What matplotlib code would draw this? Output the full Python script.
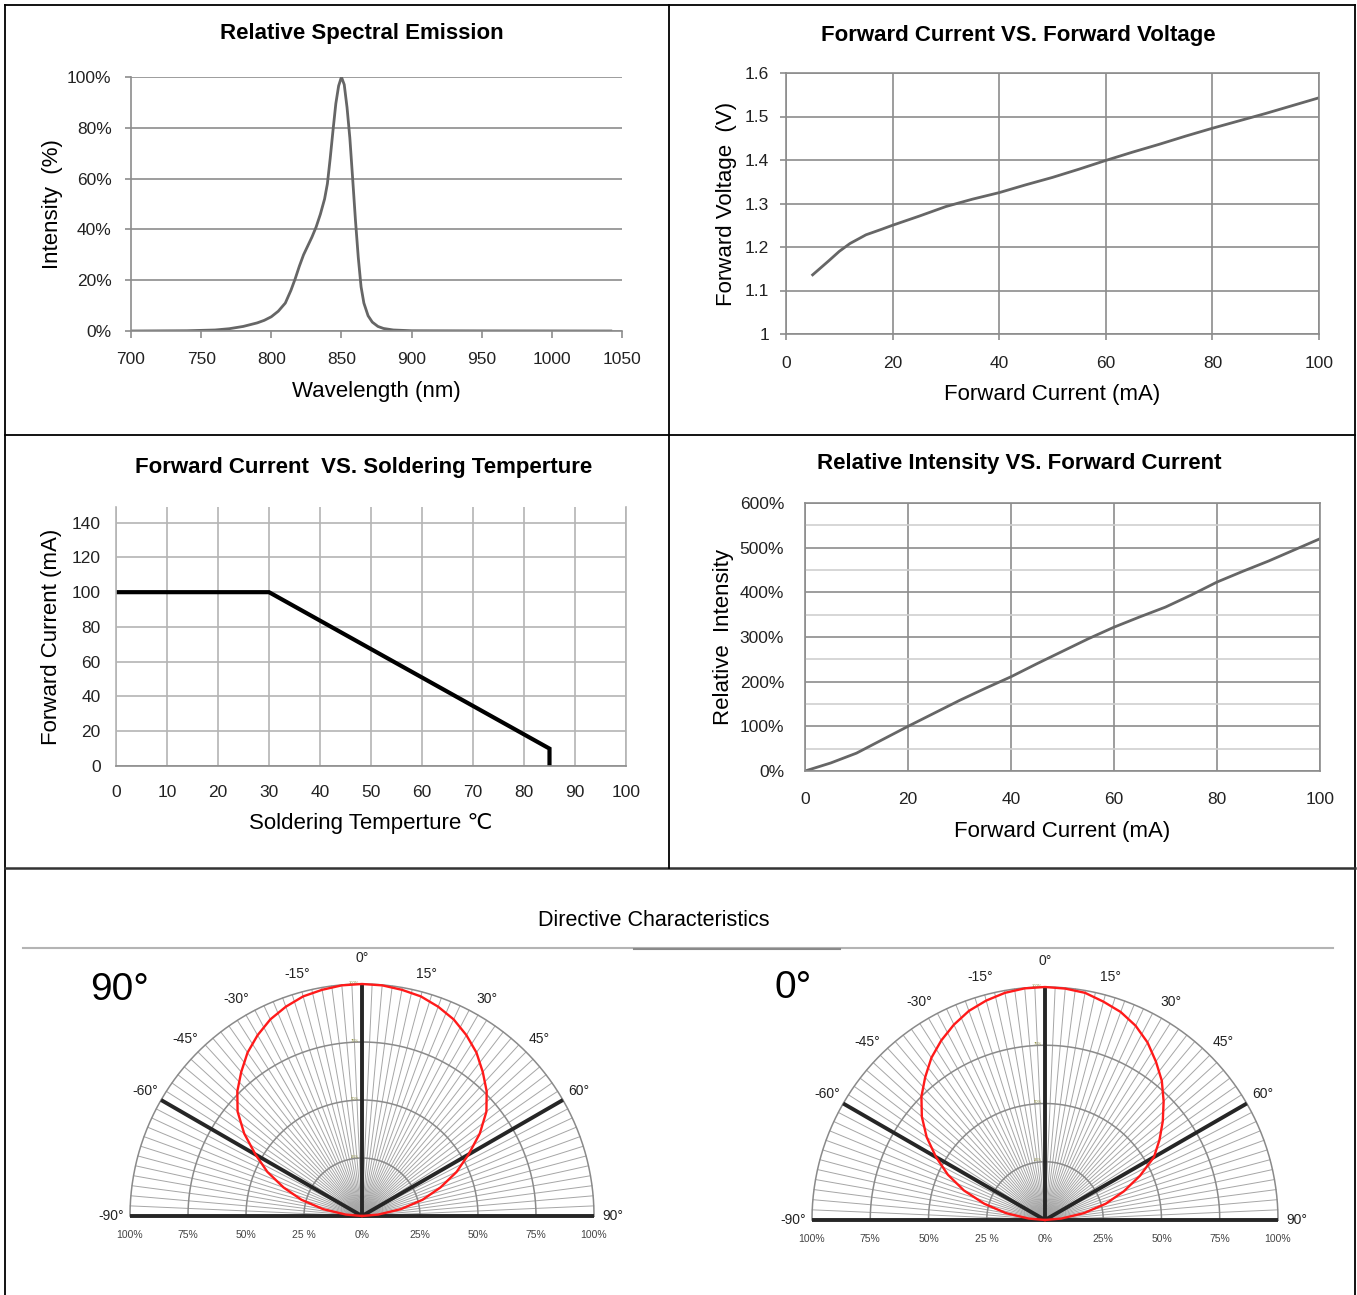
import numpy as np
import matplotlib
matplotlib.use('Agg')
import matplotlib.pyplot as plt
from matplotlib.lines import Line2D
from matplotlib.ticker import PercentFormatter, MultipleLocator

plt.rcParams['font.family'] = ['Liberation Sans', 'DejaVu Sans']

W, H = 1357, 1295

# Relative spectral emission
wl = [700, 740, 760, 770, 780, 790, 795, 800, 805, 810, 814, 817, 820, 823, 826,
      829, 832, 835, 838, 840, 842, 844, 846, 848, 850, 852, 854, 856, 858, 860,
      862, 864, 866, 869, 872, 876, 880, 887, 900, 950, 1042]
spec = [0, 0.1, 0.4, 0.9, 1.8, 3.2, 4.2, 5.6, 7.8, 11, 16, 20.5, 25.5, 30, 33.5,
        37, 41, 46, 52, 58, 68, 79, 89.5, 96.5, 100, 97, 88, 76, 60, 43.6,
        29, 17.4, 11, 6, 3.5, 1.8, 1, 0.4, 0.1, 0.05, 0]

# Forward current vs forward voltage
fv_i = [5, 8, 10, 12, 15, 18, 20, 25, 30, 35, 40, 45, 50, 55, 60, 65, 70, 75,
        80, 85, 90, 95, 100]
fv_v = [1.136, 1.168, 1.190, 1.208, 1.228, 1.241, 1.250, 1.271, 1.293, 1.310,
        1.325, 1.343, 1.360, 1.379, 1.399, 1.418, 1.436, 1.455, 1.473, 1.490,
        1.507, 1.525, 1.543]

# Forward current vs soldering temperature
st_t = [0, 30, 85, 85]
st_i = [100, 100, 10, 0]

# Relative intensity vs forward current
ri_i = [0, 5, 10, 15, 20, 25, 30, 35, 40, 45, 50, 55, 60, 65, 70, 75, 80, 85,
        90, 95, 100]
ri_p = [0, 18, 40, 70, 100, 129, 158, 185, 211, 240, 268, 296, 322, 345, 367,
        394, 423, 447, 470, 495, 520]

# Directive characteristics
pat_ang = [-90, -85, -80, -75, -70, -65, -60, -55, -50, -45, -40, -35, -30, -25,
           -20, -15, -10, -5, 0, 5, 10, 15, 20, 25, 30, 35, 40, 45, 50, 55, 60,
           65, 70, 75, 80, 85, 90]
pat_r90 = [0, 0.07, 0.17, 0.27, 0.36, 0.45, 0.53, 0.62, 0.70, 0.76, 0.81, 0.86,
           0.90, 0.935, 0.96, 0.98, 0.99, 0.998, 1.0, 0.998, 0.99, 0.98, 0.96,
           0.935, 0.90, 0.86, 0.81, 0.76, 0.70, 0.62, 0.53, 0.45, 0.36, 0.27,
           0.17, 0.07, 0]
pat_r0 = [0, 0.07, 0.17, 0.27, 0.37, 0.46, 0.54, 0.62, 0.69, 0.75, 0.80, 0.85,
          0.89, 0.925, 0.955, 0.975, 0.99, 0.998, 1.0, 0.997, 0.99, 0.97, 0.95,
          0.92, 0.88, 0.83, 0.78, 0.72, 0.66, 0.60, 0.54, 0.45, 0.36, 0.27,
          0.17, 0.07, 0]
bold_angles = [-90, -60, 0, 60, 90]
deg_labels = [-90, -60, -45, -30, -15, 0, 15, 30, 45, 60, 90]
r_circles = [0.25, 0.5, 0.75, 1.0]
r_ticks = [-1, -0.75, -0.5, -0.25, 0, 0.25, 0.5, 0.75, 1]
r_ticklabels = ['100%', '75%', '50%', '25 %', '0%', '25%', '50%', '75%', '100%']

fig = plt.figure(figsize=(W / 100, H / 100), dpi=100)


def px_axes(x0, y0, x1, y1, **kw):
    return fig.add_axes([x0 / W, 1 - y1 / H, (x1 - x0) / W, (y1 - y0) / H], **kw)


def ftext(x, y, s, **kw):
    fig.text(x / W, 1 - y / H, s, **kw)


def fline(x0, y0, x1, y1, **kw):
    fig.add_artist(Line2D([x0 / W, x1 / W], [1 - y0 / H, 1 - y1 / H], **kw))


# table borders
bc = 'black'
fline(5, 5, 1355, 5, color=bc, lw=1.3)
fline(5, 5, 5, 1295, color=bc, lw=1.3)
fline(1355, 5, 1355, 1295, color=bc, lw=1.3)
fline(5, 435, 1355, 435, color=bc, lw=1.3)
fline(5, 868, 1355, 868, color='#333333', lw=1.8)
fline(669, 5, 669, 868, color=bc, lw=1.3)

tick_c = '#222222'
grid_c = '#8c8c8c'
lab_fs = 16
tick_fs = 12.5
title_fs = 16


def style(ax):
    for s in ax.spines.values():
        s.set_color(grid_c)
        s.set_linewidth(1.2)
    ax.tick_params(labelsize=tick_fs, colors=grid_c, labelcolor=tick_c, width=1.2)
    ax.set_axisbelow(True)


# ---- chart 1
ax1 = px_axes(131, 77, 622, 331)
style(ax1)
ax1.plot(wl, spec, color='#666666', lw=2)
ax1.set_xlim(700, 1050)
ax1.set_ylim(0, 100)
ax1.set_xticks(np.arange(700, 1051, 50))
ax1.set_yticks(np.arange(0, 101, 20))
ax1.yaxis.set_major_formatter(PercentFormatter(decimals=0))
ax1.grid(axis='y', color=grid_c, lw=1.2)
ax1.spines['top'].set_visible(False)
ax1.spines['right'].set_visible(False)
ax1.tick_params(axis='x', length=5, pad=10)
ax1.tick_params(axis='y', length=4, pad=10)
ax1.set_xlabel('Wavelength (nm)', fontsize=lab_fs, labelpad=10)
ax1.set_ylabel('Intensity  (%)', fontsize=lab_fs, labelpad=3)
ftext(362, 34, 'Relative Spectral Emission', fontsize=title_fs, fontweight='bold', ha='center', va='center')

# ---- chart 2
ax2 = px_axes(786, 73, 1319, 334)
style(ax2)
ax2.plot(fv_i, fv_v, color='#666666', lw=2)
ax2.set_xlim(0, 100)
ax2.set_ylim(1.0, 1.6)
ax2.set_xticks(np.arange(0, 101, 20))
ax2.set_yticks([1.0, 1.1, 1.2, 1.3, 1.4, 1.5, 1.6])
ax2.set_yticklabels(['1', '1.1', '1.2', '1.3', '1.4', '1.5', '1.6'])
ax2.grid(color=grid_c, lw=1.2)
ax2.tick_params(axis='x', length=4, pad=12)
ax2.tick_params(axis='y', length=4, pad=8)
ax2.set_xlabel('Forward Current (mA)', fontsize=lab_fs, labelpad=9)
ax2.set_ylabel('Forward Voltage  (V)', fontsize=lab_fs, labelpad=6)
ftext(1018, 35, 'Forward Current VS. Forward Voltage', fontsize=title_fs, fontweight='bold', ha='center', va='center')

# ---- chart 3
ax3 = px_axes(116, 507, 626, 766)
style(ax3)
ax3.plot(st_t, st_i, color='black', lw=3, solid_joinstyle='miter')
ax3.set_xlim(0, 100)
ax3.set_ylim(0, 149)
ax3.set_xticks(np.arange(0, 101, 10))
ax3.set_yticks(np.arange(0, 141, 20))
ax3.grid(color='#b4b4b4', lw=1.2)
ax3.spines['top'].set_visible(False)
ax3.spines['right'].set_color('#b4b4b4')
ax3.spines['left'].set_color('#b4b4b4')
ax3.tick_params(axis='x', length=0, pad=14)
ax3.tick_params(axis='y', length=0, pad=11)
ax3.set_xlabel('Soldering Temperture \u2103', fontsize=lab_fs, labelpad=9)
ax3.set_ylabel('Forward Current (mA)', fontsize=lab_fs, labelpad=7)
ftext(364, 468, 'Forward Current  VS. Soldering Temperture', fontsize=title_fs, fontweight='bold', ha='center', va='center')

# ---- chart 4
ax4 = px_axes(805, 503, 1320, 771)
style(ax4)
ax4.plot(ri_i, ri_p, color='#666666', lw=2)
ax4.set_xlim(0, 100)
ax4.set_ylim(0, 600)
ax4.set_xticks(np.arange(0, 101, 20))
ax4.set_yticks(np.arange(0, 601, 100))
ax4.yaxis.set_minor_locator(MultipleLocator(50))
ax4.yaxis.set_major_formatter(PercentFormatter(decimals=0))
ax4.grid(which='major', color=grid_c, lw=1.2)
ax4.grid(which='minor', axis='y', color='#d0d0d0', lw=1.2)
ax4.tick_params(which='minor', length=0)
ax4.tick_params(axis='x', length=0, pad=15)
ax4.tick_params(axis='y', length=0, pad=15)
ax4.set_xlabel('Forward Current (mA)', fontsize=lab_fs, labelpad=10)
ax4.set_ylabel('Relative  Intensity', fontsize=lab_fs, labelpad=4)
ftext(1019, 463, 'Relative Intensity VS. Forward Current', fontsize=title_fs, fontweight='bold', ha='center', va='center')

# ---- directive characteristics
ftext(654, 920, 'Directive Characteristics', fontsize=15.5, ha='center', va='center')
fline(23, 948, 1333, 948, color='#b4b4b4', lw=1.5)
fline(634, 949, 840, 949, color='#8a8a8a', lw=1.5)


def to_xy(ang, r):
    a = np.deg2rad(np.asarray(ang, dtype=float))
    r = np.asarray(r, dtype=float)
    return r * np.sin(a), r * np.cos(a)


def polar_chart(cx, cy, R, r_vals, tag, tx, ty):
    ax = px_axes(cx - R, cy - R, cx + R, cy)
    ax.set_xlim(-1, 1)
    ax.set_ylim(0, 1)
    ax.axis('off')
    # radial grid
    for a in np.arange(-90, 90.1, 2.5):
        x, y = to_xy([a, a], [0, 1])
        ax.plot(x, y, color='#a6a6a6', lw=0.7, zorder=1, clip_on=False)
    arc = np.linspace(-90, 90, 361)
    for rc in r_circles:
        x, y = to_xy(arc, np.full_like(arc, rc))
        ax.plot(x, y, color='#8a8a8a', lw=1.1, zorder=2, clip_on=False)
    for a in bold_angles:
        x, y = to_xy([a, a], [0, 1])
        ax.plot(x, y, color='#262626', lw=2.8, zorder=4, clip_on=False, solid_capstyle='butt')
    x, y = to_xy(pat_ang, r_vals)
    ax.plot(x, y, color='#ff1a1a', lw=1.7, zorder=5, clip_on=False)
    for a in deg_labels:
        rr = 1.11 if a == 0 else 1.08
        x, y = to_xy(a, rr)
        ax.text(x, y, '%d\u00b0' % a, fontsize=10, ha='center', va='center', color='#222222')
    for rv, lab in zip(r_ticks, r_ticklabels):
        ax.annotate(lab, xy=(rv, 0), xytext=(0, -14), textcoords='offset points',
                    ha='center', va='center', fontsize=7.5, color='#444444',
                    annotation_clip=False)
    for rc in r_circles:
        ax.annotate('%d%%' % (rc * 100), xy=(0, rc), xytext=(-2, 1), textcoords='offset points',
                    ha='right', va='center', fontsize=3, color='#8b8b3a',
                    annotation_clip=False)
    ftext(tx, ty, tag, fontsize=28, ha='center', va='center')
    return ax


polar_chart(362, 1216, 232, pat_r90, '90\u00b0', 120, 990)
polar_chart(1045, 1220, 233, pat_r0, '0\u00b0', 793, 988)

fig.savefig('out.png', dpi=100, facecolor='white')
